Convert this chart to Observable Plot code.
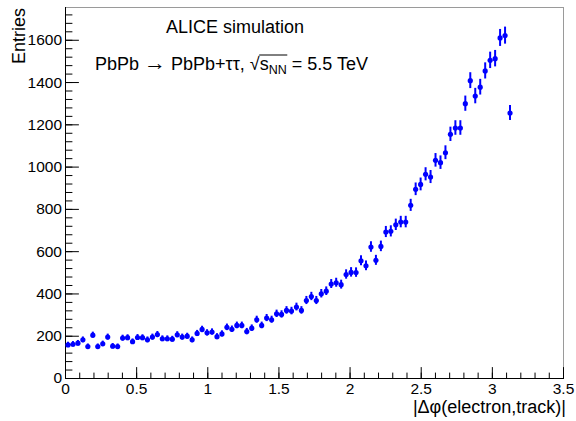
<!DOCTYPE html>
<html>
<head>
<meta charset="utf-8">
<script src="https://cdn.jsdelivr.net/npm/d3@7"></script>
<script src="https://cdn.jsdelivr.net/npm/@observablehq/plot@0.6"></script>
<style>
  html, body { margin: 0; padding: 0; background: #fff; }
  svg { display: block; }
</style>
</head>
<body>
<div id="chart"></div>
<script>
// Histogram: 90 bins over [0, pi]
const nBins = 90;
const xLo = 0, xHi = Math.PI;
const entries = [
  159, 162, 167, 183, 151, 205, 151, 164, 196, 153,
  151, 191, 193, 174, 194, 193, 183, 196, 208, 188,
  188, 186, 207, 196, 200, 183, 213, 232, 216, 220,
  198, 211, 242, 233, 251, 251, 222, 238, 278, 251,
  286, 278, 306, 303, 322, 319, 338, 322, 369, 388,
  369, 401, 413, 447, 453, 444, 492, 502, 501, 557,
  533, 622, 559, 625, 693, 696, 727, 740, 740, 819,
  895, 918, 966, 953, 1032, 1021, 1068, 1155, 1185, 1185,
  1300, 1409, 1336, 1378, 1455, 1505, 1513, 1611, 1622, 1256
];
const xTicks = [0, 0.5, 1, 1.5, 2, 2.5, 3, 3.5];
const yTicks = [0, 200, 400, 600, 800, 1000, 1200, 1400, 1600];
const xMinor = d3.range(0, 36).map(i => i / 10);
const yMinor = d3.range(0, 44).map(i => i * 40);
const xTitle = "|Δφ(electron,track)|";
const yTitle = "Entries";
const line1 = "ALICE simulation";

const binW = (xHi - xLo) / nBins;
const data = entries.map((v, i) => ({x: xLo + (i + 0.5) * binW, y: v, e: Math.sqrt(v)}));

const FONT = "'Liberation Sans', Arial, Helvetica, sans-serif";
const tickShape = {draw(ctx, l) { ctx.moveTo(0, 0); ctx.lineTo(0, -l); }};

const plot = Plot.plot({
  width: 576,
  height: 421,
  marginLeft: 65,
  marginRight: 13,
  marginTop: 7,
  marginBottom: 43,
  style: {fontFamily: FONT, background: "#fff", color: "#000"},
  x: {domain: [0, 3.5]},
  y: {domain: [0, 1755]},
  marks: [
    Plot.frame({stroke: "#9a9a9a", strokeWidth: 1}),
    Plot.ruleX([0], {stroke: "#000", strokeWidth: 1}),
    Plot.ruleY([0], {stroke: "#000", strokeWidth: 1}),
    // inward ticks
    Plot.vector(xMinor, {x: d => d, frameAnchor: "bottom", length: 5.5, anchor: "start", shape: tickShape, stroke: "#000", strokeWidth: 1}),
    Plot.vector(xTicks, {x: d => d, frameAnchor: "bottom", length: 11, anchor: "start", shape: tickShape, stroke: "#000", strokeWidth: 1}),
    Plot.vector(yMinor, {y: d => d, frameAnchor: "left", rotate: 90, length: 6.5, anchor: "start", shape: tickShape, stroke: "#000", strokeWidth: 1}),
    Plot.vector(yTicks, {y: d => d, frameAnchor: "left", rotate: 90, length: 13, anchor: "start", shape: tickShape, stroke: "#000", strokeWidth: 1}),
    Plot.axisX({ticks: xTicks, tickSize: 0, tickPadding: 4, label: null, fontSize: 15.5, tickFormat: d => String(d)}),
    Plot.axisY({ticks: yTicks, tickSize: 0, tickPadding: 3.5, label: null, fontSize: 15.5, tickFormat: d => String(d)}),
    // error bars + markers
    Plot.ruleX(data, {x: "x", y1: d => d.y - d.e, y2: d => d.y + d.e, stroke: "#0000ff", strokeWidth: 2}),
    Plot.dot(data, {x: "x", y: "y", r: 2.6, fill: "#0000ff", stroke: "none"})
  ]
});

document.getElementById("chart").appendChild(plot);
const svg = d3.select(plot);

// Axis titles
svg.append("text")
  .attr("transform", "translate(25,8) rotate(-90)")
  .attr("text-anchor", "end")
  .attr("font-family", FONT).attr("font-size", 18).attr("fill", "#000")
  .text(yTitle);
svg.append("text")
  .attr("x", 566).attr("y", 413)
  .attr("text-anchor", "end")
  .attr("font-family", FONT).attr("font-size", 18).attr("fill", "#000")
  .text(xTitle);

// Annotations
svg.append("text")
  .attr("x", 235).attr("y", 33)
  .attr("text-anchor", "middle")
  .attr("font-family", FONT).attr("font-size", 18).attr("fill", "#000")
  .text(line1);

const t2 = svg.append("text")
  .attr("x", 95).attr("y", 70)
  .attr("text-anchor", "start")
  .attr("font-family", FONT).attr("font-size", 18).attr("fill", "#000");
t2.append("tspan").text("PbPb ");
t2.append("tspan").attr("font-size", 22).attr("dy", 0).text("→");
t2.append("tspan").text(" PbPb+ττ, ");
const sq = t2.append("tspan").text("√");
t2.append("tspan").text("s");
const nn = t2.append("tspan").attr("font-size", 12.5).attr("dy", 4).text("NN");
t2.append("tspan").attr("dy", -4).text(" = 5.5 TeV");

// overbar of the square root
try {
  const ext = sq.node().getExtentOfChar(0);
  const x1 = ext.x + ext.width - 0.5;
  const x2 = nn.node().getEndPositionOfChar(1).x + 0.5;
  const yTop = 55;
  svg.append("line")
    .attr("x1", x1).attr("x2", x2).attr("y1", yTop).attr("y2", yTop)
    .attr("stroke", "#000").attr("stroke-width", 1);
} catch (e) {}
</script>
</body>
</html>
